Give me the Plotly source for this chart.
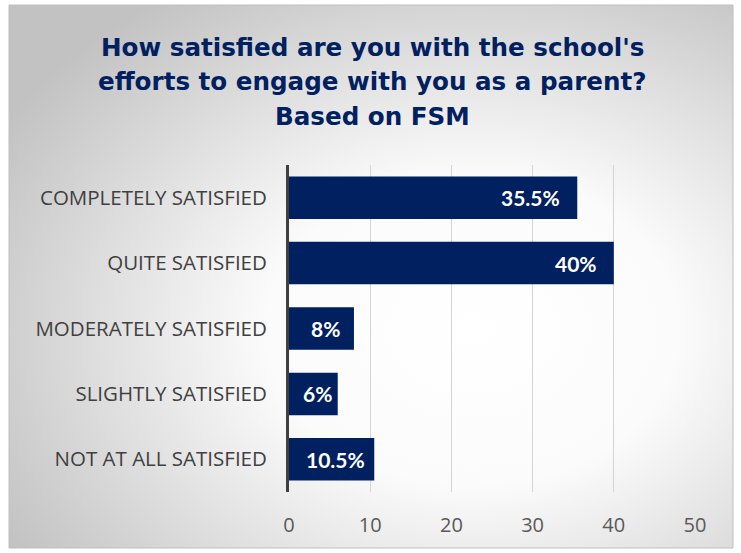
import base64
import plotly.graph_objects as go

# data
categories = [
    "COMPLETELY SATISFIED",
    "QUITE SATISFIED",
    "MODERATELY SATISFIED",
    "SLIGHTLY SATISFIED",
    "NOT AT ALL SATISFIED",
]
values = [35.5, 40, 8, 6, 10.5]
value_labels = ["35.5%", "40%", "8%", "6%", "10.5%"]
x_ticks = [0, 10, 20, 30, 40, 50]
title_lines = [
    "How satisfied are you with the school's",
    "efforts to engage with you as a parent?",
    "Based on FSM",
]

NAVY = "#002060"
W, H = 741, 553
M = dict(l=289, r=46, t=165, b=61)

# radial grey gradient for the chart area, drawn as an svg image
svg = (
    '<svg xmlns="http://www.w3.org/2000/svg" width="724" height="543" '
    'viewBox="0 0 724 543" preserveAspectRatio="none">'
    '<defs><radialGradient id="g" cx="0.64" cy="0.6" r="0.75">'
    '<stop offset="0" stop-color="#ffffff"/>'
    '<stop offset="0.38" stop-color="#fbfbfb"/>'
    '<stop offset="1" stop-color="#c2c2c2"/>'
    '</radialGradient></defs>'
    '<rect width="724" height="543" fill="url(#g)"/></svg>'
)
bg_src = "data:image/svg+xml;base64," + base64.b64encode(svg.encode()).decode()

pw = W - M["l"] - M["r"]
ph = H - M["t"] - M["b"]
def px_x(p):
    return (p - M["l"]) / pw
def px_y(p):
    return (H - M["b"] - p) / ph

box = dict(x0=px_x(9), x1=px_x(733), y0=px_y(548), y1=px_y(5))

fig = go.Figure()
fig.add_trace(go.Bar(
    y=categories,
    x=values,
    orientation="h",
    marker=dict(color=NAVY, line=dict(width=0)),
    width=0.65,
    hoverinfo="skip",
))

# value labels: inside end for long bars, centred-ish for short ones
annotations = []
for c, v, t in zip(categories, values, value_labels):
    if v > 15:
        pos = dict(x=v, xanchor="right", xshift=-15)
    else:
        pos = dict(x=v / 2, xanchor="center", xshift=4)
    annotations.append(dict(
        y=c, xref="x", yref="y", text=t, showarrow=False, yanchor="middle",
        font=dict(family="Lato", size=21, color="white", weight="bold"),
        **pos,
    ))

# title, one annotation per line for the wider line spacing
for line, ypx in zip(title_lines, [47, 82, 116]):
    annotations.append(dict(
        x=px_x(372), y=px_y(ypx), xref="paper", yref="paper",
        text=line, showarrow=False, xanchor="center", yanchor="middle",
        font=dict(family="DejaVu Sans", size=24.6, color=NAVY, weight="bold"),
    ))

fig.update_layout(
    width=W, height=H,
    margin=M,
    paper_bgcolor="white",
    plot_bgcolor="rgba(0,0,0,0)",
    showlegend=False,
    annotations=annotations,
    images=[dict(
        source=bg_src, xref="paper", yref="paper",
        x=box["x0"], y=box["y1"],
        sizex=box["x1"] - box["x0"], sizey=box["y1"] - box["y0"],
        xanchor="left", yanchor="top", sizing="stretch", layer="below",
    )],
    shapes=[dict(
        type="rect", xref="paper", yref="paper",
        x0=box["x0"], x1=box["x1"], y0=box["y0"], y1=box["y1"],
        line=dict(color="#bfbfbf", width=1), fillcolor="rgba(0,0,0,0)",
        layer="below",
    )],
)

fig.update_xaxes(
    range=[0, 50],
    tickvals=x_ticks,
    showgrid=True, gridcolor="#d4d4d4", gridwidth=1,
    zeroline=False, showline=False,
    ticks="", ticklen=0,
    ticklabelstandoff=19,
    tickfont=dict(family="Open Sans", size=20, color="#595959"),
    fixedrange=True,
)
fig.update_yaxes(
    autorange="reversed",
    showline=True, linecolor="#404040", linewidth=3,
    showgrid=False, ticks="",
    ticklabelstandoff=15,
    tickfont=dict(family="Open Sans", size=20.5, color="#404040"),
    fixedrange=True,
)

fig.write_html(
    "out.html",
    config={"displayModeBar": False},
    post_script="document.body.style.margin='0';",
)
